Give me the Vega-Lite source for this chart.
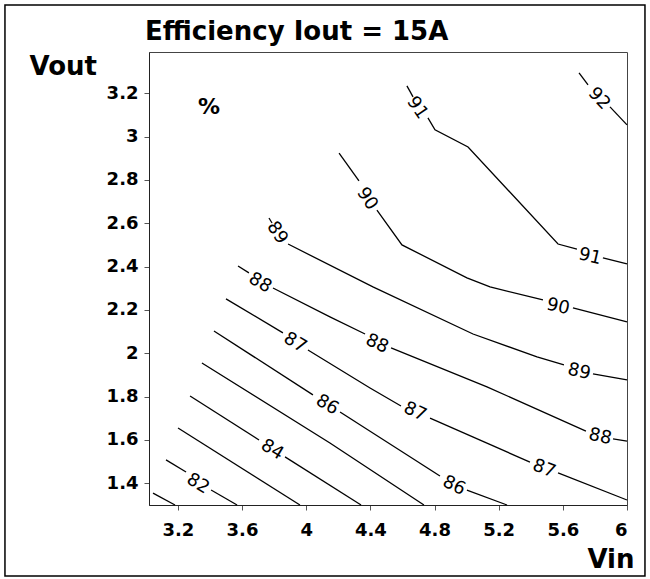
{
  "$schema": "https://vega.github.io/schema/vega-lite/v6.json",
  "autosize": "none",
  "width": 478,
  "height": 453,
  "padding": {"left": 149, "top": 52, "right": 23, "bottom": 74},
  "background": "white",
  "title": {"text": "Efficiency Iout = 15A", "anchor": "start", "frame": "group", "dx": -4, "dy": 72, "offset": 10, "baseline": "alphabetic", "font": "DejaVu Sans", "fontSize": 26, "fontWeight": "bold", "color": "black"},
  "config": {
    "font": "DejaVu Sans",
    "view": {"stroke": "#444", "strokeWidth": 1},
    "axis": {"grid": false, "labelFont": "DejaVu Sans", "labelFontSize": 18, "labelFontWeight": "bold", "labelColor": "black", "tickColor": "#555", "tickSize": 5, "domainColor": "#222", "titleFont": "DejaVu Sans", "titleFontSize": 26, "titleFontWeight": "bold", "titleColor": "black"}
  },
  "datasets": {
    "lines": [
      {"level": 81, "seg": "81a", "i": 1, "vin": 3.045, "vout": 1.355},
      {"level": 81, "seg": "81a", "i": 2, "vin": 3.182, "vout": 1.30},
      {"level": 82, "seg": "82a", "i": 1, "vin": 3.126, "vout": 1.508},
      {"level": 82, "seg": "82a", "i": 2, "vin": 3.251, "vout": 1.452},
      {"level": 82, "seg": "82b", "i": 1, "vin": 3.407, "vout": 1.369},
      {"level": 82, "seg": "82b", "i": 2, "vin": 3.569, "vout": 1.30},
      {"level": 83, "seg": "83a", "i": 1, "vin": 3.201, "vout": 1.655},
      {"level": 83, "seg": "83a", "i": 2, "vin": 3.961, "vout": 1.30},
      {"level": 84, "seg": "84a", "i": 1, "vin": 3.276, "vout": 1.803},
      {"level": 84, "seg": "84a", "i": 2, "vin": 3.706, "vout": 1.600},
      {"level": 84, "seg": "84b", "i": 1, "vin": 3.868, "vout": 1.522},
      {"level": 84, "seg": "84b", "i": 2, "vin": 4.342, "vout": 1.30},
      {"level": 85, "seg": "85a", "i": 1, "vin": 3.350, "vout": 1.955},
      {"level": 85, "seg": "85a", "i": 2, "vin": 4.148, "vout": 1.586},
      {"level": 85, "seg": "85a", "i": 3, "vin": 4.734, "vout": 1.30},
      {"level": 86, "seg": "86a", "i": 1, "vin": 3.425, "vout": 2.103},
      {"level": 86, "seg": "86a", "i": 2, "vin": 4.042, "vout": 1.808},
      {"level": 86, "seg": "86b", "i": 1, "vin": 4.211, "vout": 1.729},
      {"level": 86, "seg": "86b", "i": 2, "vin": 4.834, "vout": 1.434},
      {"level": 86, "seg": "86c", "i": 1, "vin": 5.002, "vout": 1.369},
      {"level": 86, "seg": "86c", "i": 2, "vin": 5.252, "vout": 1.30},
      {"level": 87, "seg": "87a", "i": 1, "vin": 3.500, "vout": 2.251},
      {"level": 87, "seg": "87a", "i": 2, "vin": 3.855, "vout": 2.094},
      {"level": 87, "seg": "87b", "i": 1, "vin": 4.011, "vout": 2.015},
      {"level": 87, "seg": "87b", "i": 2, "vin": 4.398, "vout": 1.840},
      {"level": 87, "seg": "87b", "i": 3, "vin": 4.591, "vout": 1.757},
      {"level": 87, "seg": "87c", "i": 1, "vin": 4.772, "vout": 1.701},
      {"level": 87, "seg": "87c", "i": 2, "vin": 5.395, "vout": 1.498},
      {"level": 87, "seg": "87d", "i": 1, "vin": 5.570, "vout": 1.448},
      {"level": 87, "seg": "87d", "i": 2, "vin": 6.0, "vout": 1.323},
      {"level": 88, "seg": "88a", "i": 1, "vin": 3.575, "vout": 2.403},
      {"level": 88, "seg": "88a", "i": 2, "vin": 3.643, "vout": 2.371},
      {"level": 88, "seg": "88b", "i": 1, "vin": 3.793, "vout": 2.301},
      {"level": 88, "seg": "88b", "i": 2, "vin": 4.148, "vout": 2.168},
      {"level": 88, "seg": "88b", "i": 3, "vin": 4.367, "vout": 2.089},
      {"level": 88, "seg": "88c", "i": 1, "vin": 4.529, "vout": 2.025},
      {"level": 88, "seg": "88c", "i": 2, "vin": 5.127, "vout": 1.845},
      {"level": 88, "seg": "88c", "i": 3, "vin": 5.744, "vout": 1.641},
      {"level": 88, "seg": "88d", "i": 1, "vin": 5.913, "vout": 1.605},
      {"level": 88, "seg": "88d", "i": 2, "vin": 6.0, "vout": 1.595},
      {"level": 89, "seg": "89a", "i": 1, "vin": 3.768, "vout": 2.624},
      {"level": 89, "seg": "89a", "i": 2, "vin": 3.787, "vout": 2.601},
      {"level": 89, "seg": "89b", "i": 1, "vin": 3.887, "vout": 2.504},
      {"level": 89, "seg": "89b", "i": 2, "vin": 4.416, "vout": 2.306},
      {"level": 89, "seg": "89b", "i": 3, "vin": 5.040, "vout": 2.089},
      {"level": 89, "seg": "89b", "i": 4, "vin": 5.439, "vout": 1.983},
      {"level": 89, "seg": "89b", "i": 5, "vin": 5.607, "vout": 1.946},
      {"level": 89, "seg": "89c", "i": 1, "vin": 5.788, "vout": 1.905},
      {"level": 89, "seg": "89c", "i": 2, "vin": 6.0, "vout": 1.877},
      {"level": 90, "seg": "90a", "i": 1, "vin": 4.205, "vout": 2.924},
      {"level": 90, "seg": "90a", "i": 2, "vin": 4.329, "vout": 2.795},
      {"level": 90, "seg": "90b", "i": 1, "vin": 4.441, "vout": 2.661},
      {"level": 90, "seg": "90b", "i": 2, "vin": 4.597, "vout": 2.500},
      {"level": 90, "seg": "90b", "i": 3, "vin": 5.002, "vout": 2.348},
      {"level": 90, "seg": "90b", "i": 4, "vin": 5.146, "vout": 2.306},
      {"level": 90, "seg": "90b", "i": 5, "vin": 5.476, "vout": 2.246},
      {"level": 90, "seg": "90c", "i": 1, "vin": 5.663, "vout": 2.209},
      {"level": 90, "seg": "90c", "i": 2, "vin": 6.0, "vout": 2.145},
      {"level": 91, "seg": "91a", "i": 1, "vin": 4.628, "vout": 3.234},
      {"level": 91, "seg": "91a", "i": 2, "vin": 4.666, "vout": 3.183},
      {"level": 91, "seg": "91b", "i": 1, "vin": 4.759, "vout": 3.086},
      {"level": 91, "seg": "91b", "i": 2, "vin": 4.803, "vout": 3.031},
      {"level": 91, "seg": "91b", "i": 3, "vin": 5.009, "vout": 2.952},
      {"level": 91, "seg": "91b", "i": 4, "vin": 5.570, "vout": 2.504},
      {"level": 91, "seg": "91b", "i": 5, "vin": 5.688, "vout": 2.481},
      {"level": 91, "seg": "91c", "i": 1, "vin": 5.850, "vout": 2.440},
      {"level": 91, "seg": "91c", "i": 2, "vin": 6.0, "vout": 2.412},
      {"level": 92, "seg": "92a", "i": 1, "vin": 5.701, "vout": 3.294},
      {"level": 92, "seg": "92a", "i": 2, "vin": 5.757, "vout": 3.238},
      {"level": 92, "seg": "92b", "i": 1, "vin": 5.894, "vout": 3.137},
      {"level": 92, "seg": "92b", "i": 2, "vin": 6.0, "vout": 3.054}
    ],
    "labels": [
      {"id": "82", "label": "82", "vin": 3.325, "vout": 1.397},
      {"id": "84", "label": "84", "vin": 3.787, "vout": 1.554},
      {"id": "86a", "label": "86", "vin": 4.130, "vout": 1.761},
      {"id": "86b", "label": "86", "vin": 4.921, "vout": 1.388},
      {"id": "87a", "label": "87", "vin": 3.930, "vout": 2.048},
      {"id": "87b", "label": "87", "vin": 4.678, "vout": 1.729},
      {"id": "87c", "label": "87", "vin": 5.483, "vout": 1.466},
      {"id": "88a", "label": "88", "vin": 3.712, "vout": 2.324},
      {"id": "88b", "label": "88", "vin": 4.441, "vout": 2.043},
      {"id": "88c", "label": "88", "vin": 5.832, "vout": 1.614},
      {"id": "89a", "label": "89", "vin": 3.818, "vout": 2.555},
      {"id": "89b", "label": "89", "vin": 5.701, "vout": 1.914},
      {"id": "90a", "label": "90", "vin": 4.379, "vout": 2.712},
      {"id": "90b", "label": "90", "vin": 5.570, "vout": 2.214},
      {"id": "91a", "label": "91", "vin": 4.691, "vout": 3.132},
      {"id": "91b", "label": "91", "vin": 5.769, "vout": 2.445},
      {"id": "92", "label": "92", "vin": 5.825, "vout": 3.174}
    ]
  },
  "layer": [
    {
      "data": {"values": [{"a": 1}]},
      "mark": {"type": "rect", "fill": null, "fillOpacity": 0, "stroke": "black", "strokeWidth": 1.5, "clip": false},
      "encoding": {
        "x": {"datum": 2.122, "type": "quantitative", "scale": {"domain": [3.02, 6.0], "nice": false, "zero": false}},
        "x2": {"datum": 6.112},
        "y": {"datum": 3.607, "type": "quantitative", "scale": {"domain": [1.3, 3.39], "nice": false, "zero": false}},
        "y2": {"datum": 0.972}
      }
    },
    {
      "data": {"name": "lines"},
      "mark": {"type": "line", "color": "black", "strokeWidth": 1.3, "interpolate": "linear"},
      "encoding": {
        "x": {"field": "vin", "type": "quantitative", "scale": {"domain": [3.02, 6.0], "nice": false, "zero": false},
              "axis": {"values": [3.2, 3.6, 4.0, 4.4, 4.8, 5.2, 5.6, 6.0], "format": "~g", "title": "Vin", "labelPadding": 11, "titleX": 485, "titleY": 62, "titleAlign": "right", "titleBaseline": "alphabetic", "titleAnchor": null}},
        "y": {"field": "vout", "type": "quantitative", "scale": {"domain": [1.3, 3.39], "nice": false, "zero": false},
              "axis": {"values": [1.4, 1.6, 1.8, 2.0, 2.2, 2.4, 2.6, 2.8, 3.0, 3.2], "format": "~g", "title": "Vout", "labelPadding": 6, "titleAngle": 0, "titleX": -120, "titleY": 22, "titleAlign": "left", "titleBaseline": "alphabetic", "titleAnchor": null}},
        "detail": {"field": "seg", "type": "nominal"},
        "order": {"field": "i", "type": "quantitative"}
      }
    },
    {
      "data": {"name": "labels"},
      "transform": [{"filter": {"field": "id", "oneOf": ["82", "84", "86a", "87a", "88a"]}}],
      "mark": {"type": "text", "angle": 31, "fontSize": 18, "color": "black", "align": "center", "baseline": "middle"},
      "encoding": {"x": {"field": "vin", "type": "quantitative"}, "y": {"field": "vout", "type": "quantitative"}, "text": {"field": "label"}}
    },
    {
      "data": {"name": "labels"},
      "transform": [{"filter": {"field": "id", "oneOf": ["86b", "87b", "88b"]}}],
      "mark": {"type": "text", "angle": 25, "fontSize": 18, "color": "black", "align": "center", "baseline": "middle"},
      "encoding": {"x": {"field": "vin", "type": "quantitative"}, "y": {"field": "vout", "type": "quantitative"}, "text": {"field": "label"}}
    },
    {
      "data": {"name": "labels"},
      "transform": [{"filter": {"field": "id", "oneOf": ["87c"]}}],
      "mark": {"type": "text", "angle": 21, "fontSize": 18, "color": "black", "align": "center", "baseline": "middle"},
      "encoding": {"x": {"field": "vin", "type": "quantitative"}, "y": {"field": "vout", "type": "quantitative"}, "text": {"field": "label"}}
    },
    {
      "data": {"name": "labels"},
      "transform": [{"filter": {"field": "id", "oneOf": ["88c", "89b", "90b", "91b"]}}],
      "mark": {"type": "text", "angle": 13, "fontSize": 18, "color": "black", "align": "center", "baseline": "middle"},
      "encoding": {"x": {"field": "vin", "type": "quantitative"}, "y": {"field": "vout", "type": "quantitative"}, "text": {"field": "label"}}
    },
    {
      "data": {"name": "labels"},
      "transform": [{"filter": {"field": "id", "oneOf": ["89a", "90a", "91a"]}}],
      "mark": {"type": "text", "angle": 56, "fontSize": 18, "color": "black", "align": "center", "baseline": "middle"},
      "encoding": {"x": {"field": "vin", "type": "quantitative"}, "y": {"field": "vout", "type": "quantitative"}, "text": {"field": "label"}}
    },
    {
      "data": {"name": "labels"},
      "transform": [{"filter": {"field": "id", "oneOf": ["92"]}}],
      "mark": {"type": "text", "angle": 47, "fontSize": 18, "color": "black", "align": "center", "baseline": "middle"},
      "encoding": {"x": {"field": "vin", "type": "quantitative"}, "y": {"field": "vout", "type": "quantitative"}, "text": {"field": "label"}}
    },
    {
      "data": {"values": [{"vin": 3.394, "vout": 3.137, "label": "%"}]},
      "mark": {"type": "text", "fontSize": 22, "fontWeight": "bold", "color": "black", "align": "center", "baseline": "middle"},
      "encoding": {"x": {"field": "vin", "type": "quantitative"}, "y": {"field": "vout", "type": "quantitative"}, "text": {"field": "label"}}
    }
  ]
}
